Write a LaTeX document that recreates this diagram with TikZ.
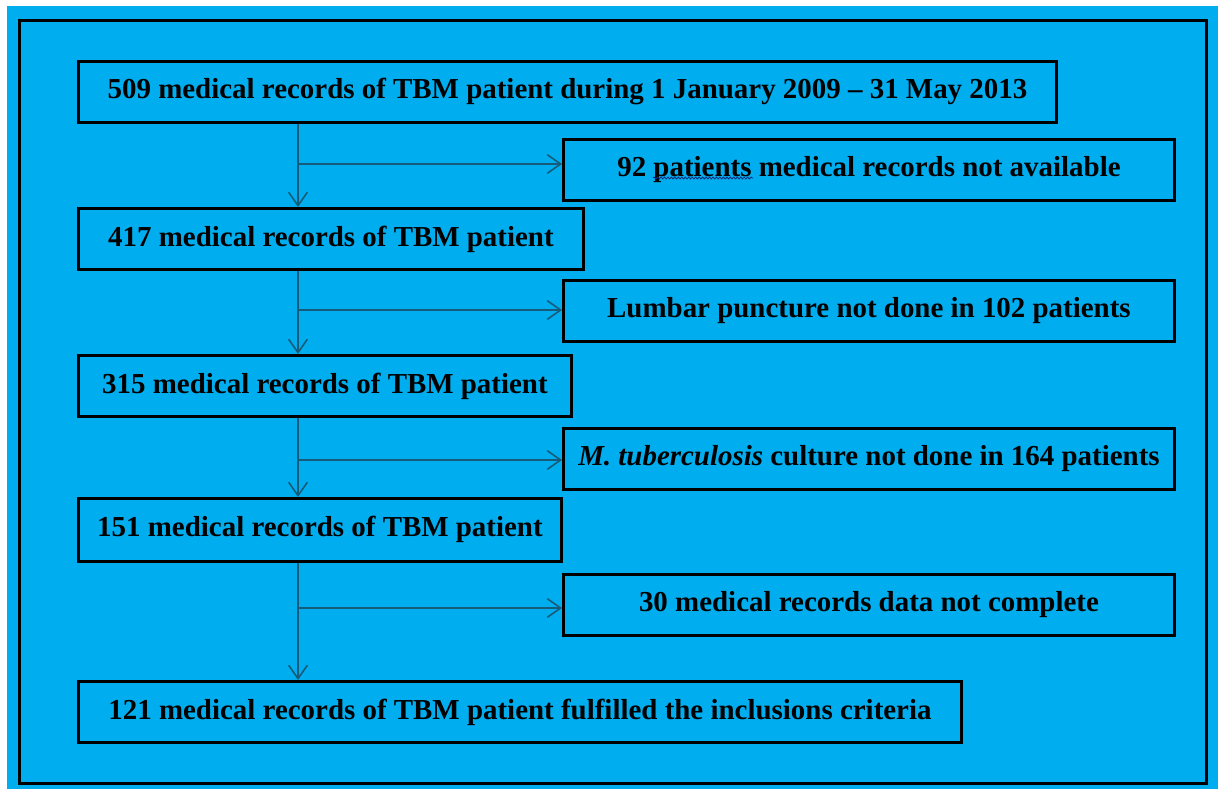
\documentclass[tikz,border=0pt]{standalone}
\usepackage{fontspec}
\setmainfont{Liberation Serif}
\usepackage{tikz}
\usetikzlibrary{arrows.meta}
\usetikzlibrary{decorations.pathmorphing}

\definecolor{flowbg}{RGB}{0,174,239}
\definecolor{flowline}{RGB}{22,92,122}
\definecolor{spellwave}{RGB}{20,40,120}

\begin{document}
\begin{tikzpicture}[x=0.75pt,y=0.75pt,yscale=-1,xscale=1,
    recbox/.style={draw=black, line width=2.2pt, inner sep=0pt, anchor=north west,
      minimum height=45.75pt, align=center,
      font=\fontsize{21.7}{26}\selectfont\bfseries},
    flowarr/.style={draw=flowline, line width=1.2pt,
      -{Straight Barb[length=10pt,width=14pt]}}]
    \useasboundingbox (0,0) rectangle (1218,789);

    %Background
    \fill [white] (0,0) rectangle (1218,789);
    \fill [flowbg] (7,6) rectangle (1218,789);
    %Outer frame
    \draw [line width=2.25pt] (19,20) rectangle (1206,783);

    %Main column
    \node [recbox, minimum width=733.5pt] (m1) at (77,60) {509 medical records of TBM patient during 1 January 2009 -- 31 May 2013};
    \node [recbox, minimum width=378.75pt] (m2) at (77,207) {417 medical records of TBM patient};
    \node [recbox, minimum width=369.75pt] (m3) at (77,354) {315 medical records of TBM patient};
    \node [recbox, minimum width=362.25pt, minimum height=47pt] (m4) at (77,497) {151 medical records of TBM patient};
    \node [recbox, minimum width=662.25pt] (m5) at (77,680) {121 medical records of TBM patient fulfilled the inclusions criteria};

    %Excluded column
    \node [recbox, minimum width=458.25pt] (x1) at (562,138) {92 patients medical records not available};
    \node [recbox, minimum width=458.25pt] (x2) at (562,279) {Lumbar puncture not done in 102 patients};
    \node [recbox, minimum width=458.25pt] (x3) at (562,427) {\textit{M. tuberculosis} culture not done in 164 patients};
    \node [recbox, minimum width=458.25pt] (x4) at (562,573) {30 medical records data not complete};

    %Spell-check wave under "patients"
    \draw [spellwave, line width=0.6pt, decorate,
      decoration={snake, amplitude=0.7pt, segment length=2.6pt}] (653,178) -- (753,178);

    %Spine and branch points
    \coordinate (spine) at (298,0);
    \coordinate (b1) at (298,164);
    \coordinate (b2) at (298,310);
    \coordinate (b3) at (298,460);
    \coordinate (b4) at (298,608);

    %Down arrows
    \draw [flowarr] (m1.south -| spine) -- (m2.north -| spine);
    \draw [flowarr] (m2.south -| spine) -- (m3.north -| spine);
    \draw [flowarr] (m3.south -| spine) -- (m4.north -| spine);
    \draw [flowarr] (m4.south -| spine) -- (m5.north -| spine);

    %Side arrows
    \draw [flowarr] (b1) -- (b1 -| x1.west);
    \draw [flowarr] (b2) -- (b2 -| x2.west);
    \draw [flowarr] (b3) -- (b3 -| x3.west);
    \draw [flowarr] (b4) -- (b4 -| x4.west);

\end{tikzpicture}
\end{document}
